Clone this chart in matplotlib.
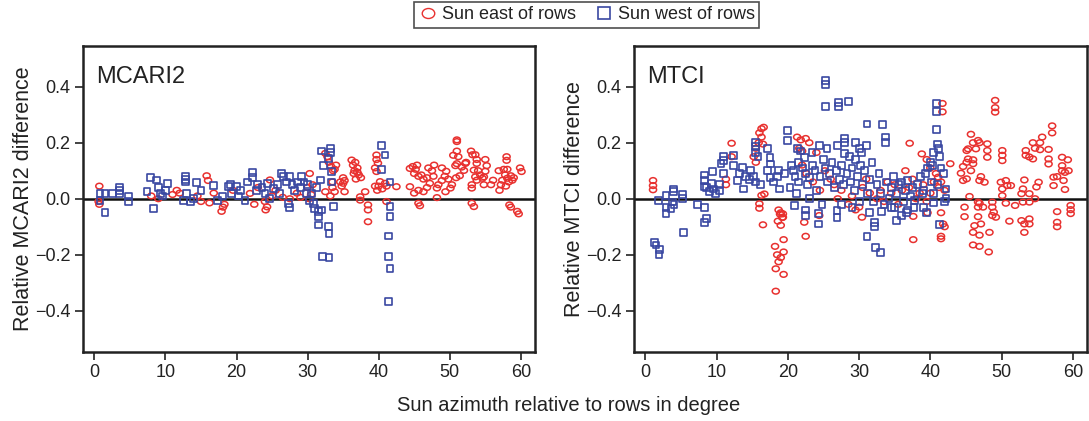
import matplotlib
matplotlib.use("Agg")
import matplotlib.pyplot as plt
from matplotlib.lines import Line2D
from matplotlib.path import Path
from matplotlib.transforms import Affine2D
from matplotlib.ticker import FixedLocator, FuncFormatter

plt.rcParams['font.family'] = ['Liberation Sans', 'DejaVu Sans']

# ---------------- data ----------------
mcari_west_x = [0.8, 0.8, 1.5, 1.5, 2.5, 3.5, 3.5, 3.5, 4.8, 4.8,
                7.4, 7.9, 8.3, 8.8, 9.0, 9.3, 10.3, 10.0, 9.6,
                12.8, 12.8, 12.8, 12.5, 13.5, 14.0, 13.0,
                14.4, 15.0, 16.8, 17.3, 18.0, 18.9, 19.3,
                19.1, 20.0, 20.6, 21.2, 22.3, 22.3, 23.0, 23.6, 24.0, 24.6, 25.2,
                26.3, 26.6, 27.0, 27.5, 27.8, 27.3, 27.4, 28.2, 29.2, 29.5, 29.0,
                30.3, 30.6, 31.0, 31.5, 31.5, 31.8, 31.2, 30.8, 32.0, 32.0, 32.2, 33.2, 33.2,
                33.4, 33.4, 32.9, 33.6, 31.5, 32.9, 33.0, 32.1, 33.0,
                40.4, 40.9, 40.4, 41.6, 41.6, 41.6, 41.4, 41.4, 41.6, 41.4,
                21.5, 22.8, 25.8, 26.0, 28.6, 24.4, 20.3, 29.8, 30.0]
mcari_west_y = [0.02, -0.005, 0.02, -0.05, 0.02, 0.04, 0.03, 0.02, 0.01, -0.01,
                0.025, 0.075, -0.035, 0.067, 0.04, 0.02, 0.055, 0.03, 0.01,
                0.08, 0.07, 0.06, -0.005, -0.01, 0.0, 0.02,
                0.057, 0.03, 0.046, -0.005, 0.01, 0.043, 0.02,
                0.05, 0.043, 0.03, -0.005, 0.093, 0.075, 0.05, 0.04, 0.02, 0.0, 0.037,
                0.09, 0.078, 0.06, 0.078, 0.05, -0.016, -0.03, 0.03, 0.079, 0.06, 0.04,
                -0.005, 0.02, -0.034, -0.046, -0.064, 0.067, 0.04, -0.017, 0.17, -0.04, 0.12, 0.18, 0.165,
                0.096, 0.06, 0.144, -0.028, -0.094, -0.098, -0.124, -0.207, -0.21,
                0.19, 0.156, 0.105, 0.06, -0.028, -0.064, -0.133, -0.207, -0.249, -0.368,
                0.06, 0.03, 0.05, 0.02, 0.06, 0.055, 0.01, 0.02, 0.05]

mcari_east_x = [0.7, 0.7, 0.6, 8.0, 9.0, 11.6, 12.0, 11.0, 15.8, 16.0, 15.0, 16.2, 17.9, 18.1, 18.3,
                16.8, 14.5, 19.5, 21.9, 22.5, 23.0, 24.0, 24.3, 24.1, 24.7, 25.0, 25.5, 26.5, 27.5,
                28.5, 29.0, 30.3, 30.0, 30.7, 30.2, 30.5,
                32.5, 32.8, 33.0, 33.3, 33.8, 34.0, 33.6, 32.5, 33.5, 33.5, 33.8, 33.2, 34.6, 35.0,
                35.2, 35.0, 35.2, 34.8,
                36.2, 36.4, 36.7, 37.0, 36.6, 37.0, 36.5, 37.2, 36.8, 37.5, 37.4, 37.4, 38.1, 38.5,
                38.5, 38.5,
                39.7, 39.7, 39.9, 39.5, 39.7, 40.2, 40.0, 40.9, 40.5, 41.1, 42.5, 41.1, 39.5, 39.8,
                44.4, 44.8, 45.2, 45.4, 45.0, 44.4, 45.0, 45.6, 45.8, 45.6, 46.3, 46.0, 46.8, 47.0,
                47.5, 47.8, 47.7, 47.2, 46.8, 46.3, 45.6,
                48.2, 48.4, 48.9, 49.3, 49.5, 48.9, 49.8, 50.3, 50.1, 49.4, 48.2,
                50.5, 51.0, 51.2, 51.0, 51.0, 51.0, 50.8, 51.7, 52.0, 52.2, 52.3, 51.4, 50.9,
                53.0, 53.2, 53.6, 53.8, 53.8, 53.4, 54.0, 54.3, 53.6, 53.8, 53.1, 53.1, 53.1, 53.4,
                55.0, 55.2, 55.0, 54.8, 54.6, 56.1, 55.8, 54.8,
                56.9, 57.6, 58.1, 57.8, 58.1, 57.4, 57.2, 57.0,
                58.0, 58.0, 58.6, 58.8, 59.0, 58.3, 57.9,
                59.9, 60.1, 58.4, 58.6, 59.5, 59.7]
mcari_east_y = [0.045, -0.02, -0.01, 0.01, 0.0, 0.03, 0.02, 0.015, 0.082, 0.065, -0.01, -0.015, -0.045, -0.03, -0.02,
                0.02, 0.01, 0.03, 0.019, -0.02, 0.04, -0.01, -0.029, -0.04, 0.067, 0.01, 0.03, 0.005, 0.0,
                0.02, 0.005, 0.09, 0.04, 0.05, 0.0, 0.015,
                0.162, 0.15, 0.13, 0.115, 0.105, 0.12, 0.1, 0.025, 0.06, 0.04, 0.025, 0.01, 0.06, 0.055,
                0.065, 0.075, 0.025, 0.045,
                0.138, 0.12, 0.13, 0.11, 0.1, 0.095, 0.09, 0.085, 0.07, 0.075, 0.007, -0.005, 0.025, -0.022,
                -0.04, -0.082,
                0.156, 0.14, 0.127, 0.11, 0.097, 0.061, 0.045, 0.055, 0.035, 0.045, 0.043, -0.01, 0.045, 0.03,
                0.108, 0.115, 0.105, 0.12, 0.09, 0.043, 0.02, -0.016, -0.025, 0.08, 0.07, 0.085, 0.075, 0.11,
                0.1, 0.12, 0.08, 0.055, 0.04, 0.025, 0.03,
                0.038, 0.05, 0.065, 0.08, 0.098, 0.11, 0.07, 0.05, 0.038, 0.025, 0.004,
                0.155, 0.17, 0.15, 0.204, 0.21, 0.125, 0.118, 0.113, 0.101, 0.126, 0.13, 0.082, 0.075,
                0.17, 0.157, 0.157, 0.14, 0.126, 0.102, 0.1, 0.085, 0.078, 0.066, 0.05, 0.038, -0.016, -0.028,
                0.14, 0.118, 0.098, 0.078, 0.073, 0.066, 0.05, 0.05,
                0.1, 0.105, 0.105, 0.085, 0.073, 0.066, 0.05, 0.03,
                0.15, 0.137, 0.082, 0.066, 0.075, 0.06, 0.045,
                0.11, 0.097, -0.022, -0.03, -0.045, -0.054]

mtci_west_x = [1.3, 1.5, 2.0, 1.9, 1.8, 2.9, 3.9, 3.9, 2.9, 2.9, 3.8, 4.0, 3.6, 5.25, 5.25, 5.3,
               7.3, 8.3, 8.6, 8.3, 8.3, 8.3, 8.3, 8.6, 9.3, 9.6, 10.4, 10.4, 9.8, 9.0, 9.4, 11.0,
               10.6, 11.0, 11.0, 12.4, 12.4, 13.6, 14.8, 12.9, 13.8, 14.0, 14.6, 13.2, 15.2, 15.4,
               15.5, 15.5, 15.5, 15.8, 17.1, 17.5, 17.6, 17.1, 16.2, 18.7, 18.8, 18.6, 18.0, 17.5, 19.5,
               20.0, 20.0, 21.4, 21.8, 22.3, 23.4, 24.4, 25.5, 27.0, 27.9, 27.9, 29.5, 31.1, 33.3, 33.7,
               33.7, 31.0, 30.0, 28.6, 29.5, 30.3,
               25.3, 25.3, 25.3, 27.1, 27.1, 28.5,
               20.9, 22.5, 22.5, 24.3, 24.3, 26.9, 26.9, 31.1, 32.3, 33.0, 32.2, 32.2, 35.3, 36.6, 37.7, 39.0,
               20.5, 20.8, 21.0, 21.5, 20.3, 21.2, 22.0, 22.5, 23.0, 22.8, 23.5, 23.8, 24.0, 24.5, 25.0,
               25.2, 25.6, 25.9, 26.2, 26.5, 26.8, 27.2, 27.5, 27.8, 28.0, 28.3, 28.8, 29.0, 29.4, 29.8,
               30.2, 30.5, 30.8, 31.2, 31.5, 31.8, 32.0, 32.5, 32.8, 33.0, 33.5, 33.8, 34.2, 34.5, 34.8,
               35.0, 35.3, 35.6, 36.0, 36.2, 36.5, 36.8, 37.2, 37.5, 37.8, 38.2, 38.6, 38.9, 39.3, 39.6,
               40.0, 40.2, 40.5, 40.9, 40.9, 40.9, 41.0, 41.1, 40.5, 41.3, 40.3, 41.5, 41.8, 41.0, 42.2,
               42.2, 42.0, 40.4, 41.3, 39.5, 39.0, 21.5, 23.0, 24.8, 27.5, 29.0, 30.0, 31.5, 33.2, 34.5,
               36.0, 36.8]
mtci_west_y = [-0.155, -0.165, -0.18, -0.2, -0.006, 0.011, 0.035, 0.027, -0.03, -0.052, -0.012, -0.02, -0.035,
               0.015, 0.0, -0.12,
               -0.02, -0.03, -0.07, -0.085, 0.085, 0.065, 0.045, 0.04, 0.055, 0.035, 0.05, 0.03, 0.02, 0.025,
               0.097, 0.089,
               0.125, 0.15, 0.135, 0.154, 0.118, 0.112, 0.1, 0.065, 0.035, 0.08, 0.07, 0.09, 0.08, 0.06,
               0.2, 0.185, 0.166, 0.15, 0.178, 0.148, 0.124, 0.1, 0.05, 0.1, 0.035, 0.08, 0.06, 0.075, 0.09,
               0.244, 0.208, 0.178, 0.17, 0.148, 0.165, 0.19, 0.178, 0.19, 0.215, 0.2, 0.2, 0.267, 0.264, 0.22,
               0.2, 0.19, 0.18, 0.15, 0.14, 0.165,
               0.422, 0.408, 0.33, 0.342, 0.33, 0.347,
               -0.024, -0.04, -0.06, -0.054, -0.09, -0.042, -0.066, -0.134, -0.173, -0.193, -0.084, -0.1,
               -0.078, -0.05, -0.03, -0.03,
               0.12, 0.1, 0.08, 0.06, 0.04, 0.02, 0.11, 0.09, 0.075, 0.05, 0.12, 0.1, 0.03, 0.08, 0.14,
               0.11, 0.06, 0.09, 0.13, 0.04, 0.1, 0.07, 0.12, 0.05, 0.16, 0.09, 0.06, 0.11, 0.03, 0.08,
               0.12, 0.05, 0.1, 0.02, 0.07, 0.13, -0.01, 0.05, 0.09, 0.02, -0.02, 0.06, 0.0, 0.04, 0.08,
               -0.03, 0.02, 0.05, 0.06, -0.01, 0.03, 0.065, 0.01, 0.04, -0.005, 0.05, 0.08, 0.02, 0.09, 0.11,
               0.13, 0.06, 0.02, 0.341, 0.311, 0.248, 0.195, 0.18, 0.165, 0.15, 0.12, 0.11, 0.09, 0.05, 0.035,
               0.0, -0.01, -0.015, -0.092, -0.05, 0.03, 0.13, 0.0, -0.02, -0.02, -0.03, -0.01, -0.05, -0.045,
               -0.03, -0.06, -0.04]

mtci_east_x = [1.07, 1.07, 1.07, 12.1, 12.1, 11.3, 11.3,
               16.3, 16.6, 16.0, 16.3, 15.9, 16.5, 15.5, 15.2, 15.5, 16.3, 16.7, 16.0, 16.0, 16.5,
               18.7, 19.0, 19.2, 18.9, 18.6, 19.0, 18.2, 19.4, 18.7, 19.4, 18.3, 19.4, 18.3, 18.5, 19.0,
               19.3, 19.3, 22.3, 22.5, 24.4, 30.4, 29.5, 30.0, 37.6, 37.6, 37.1,
               21.3, 21.8, 22.5, 23.0, 21.6, 22.0, 24.0, 22.0, 22.6, 23.5, 24.5, 25.2, 26.0, 26.5, 27.0,
               27.5, 28.5, 29.0, 30.5, 31.0, 31.5, 32.5, 33.0, 33.5, 34.0, 34.5, 35.0, 35.5, 36.0, 36.5,
               37.0, 37.5, 38.0, 38.5, 39.0, 39.5, 40.0, 40.5, 38.8, 39.5, 40.0, 40.8, 41.5, 42.0, 41.7,
               41.7, 42.8, 41.2, 41.5, 41.8, 42.0, 41.5, 41.5, 39.6, 41.1,
               45.7, 46.0, 46.7, 46.9, 46.4, 45.3, 45.1, 48.0, 48.0, 48.0,
               44.6, 45.1, 45.3, 46.0, 46.0, 45.7, 44.3, 45.1, 44.6, 47.1, 47.6, 46.9,
               45.5, 44.8, 44.8, 46.7, 46.7, 46.7, 46.2, 46.0, 46.9, 48.3, 47.1, 46.0, 46.9, 48.2,
               49.1, 49.1, 49.1, 50.1, 50.1, 50.1,
               49.9, 50.6, 50.8, 50.1, 51.3, 50.1, 50.6, 51.9, 51.1, 48.7, 48.7, 48.9, 48.7, 49.2, 47.4, 46.9,
               53.4, 53.4, 53.9, 54.4, 53.2, 53.0, 52.8, 53.9, 54.9, 55.2, 54.7, 53.9, 53.0, 52.8, 53.2, 53.2,
               53.9, 53.9,
               54.4, 54.7, 55.4, 55.7, 55.4, 57.1, 57.1,
               56.6, 56.6, 56.6, 58.5, 59.3, 58.5, 58.5, 58.9, 59.4, 57.3, 57.8, 57.3, 58.7, 58.9,
               57.8, 57.8, 57.8, 59.7, 59.7, 59.7]
mtci_east_y = [0.065, 0.047, 0.032, 0.198, 0.15, 0.07, 0.05,
               0.25, 0.255, 0.235, 0.22, 0.2, 0.195, 0.18, 0.15, 0.13, 0.012, 0.017, -0.018, -0.034, -0.093,
               -0.04, -0.05, -0.067, -0.055, -0.08, -0.095, -0.17, -0.146, -0.225, -0.19, -0.25, -0.27, -0.33,
               -0.2, -0.21,
               -0.054, -0.066, -0.084, -0.134, -0.06, -0.066, -0.04, -0.03, -0.146, -0.063, 0.198,
               0.22, 0.21, 0.215, 0.2, 0.18, 0.17, 0.165, 0.12, 0.09, 0.06, 0.03, 0.1, 0.07, 0.05, 0.0,
               0.03, -0.02, 0.01, 0.04, 0.07, 0.02, 0.0, 0.03, -0.01, 0.06, 0.02, 0.05, -0.02, 0.03, 0.1,
               0.04, 0.07, 0.0, 0.02, 0.05, -0.01, 0.02, 0.06, 0.16, 0.14, 0.11, 0.09, 0.06, 0.03, 0.34,
               0.31, 0.125, 0.04, -0.05, -0.09, -0.1, -0.134, -0.143, -0.05, 0.077,
               0.23, 0.2, 0.208, 0.2, 0.178, 0.178, 0.172, 0.196, 0.172, 0.148,
               0.115, 0.13, 0.142, 0.139, 0.125, 0.1, 0.091, 0.071, 0.065, 0.079, 0.059, 0.065,
               0.008, -0.03, -0.064, -0.012, -0.03, -0.064, -0.096, -0.12, -0.13, -0.12, -0.09, -0.165, -0.17,
               -0.19,
               0.351, 0.325, 0.309, 0.172, 0.155, 0.136,
               0.059, 0.065, 0.047, 0.035, 0.047, 0.011, -0.016, -0.024, -0.08, -0.012, -0.03, -0.048, -0.06,
               -0.066, -0.03, -0.016,
               0.172, 0.155, 0.149, 0.142, 0.067, 0.035, 0.018, 0.018, 0.042, 0.059, 0.0, -0.012, -0.012,
               -0.078, -0.09, -0.12, -0.072, -0.09,
               0.2, 0.18, 0.2, 0.22, 0.175, 0.26, 0.235,
               0.176, 0.142, 0.124, 0.148, 0.139, 0.118, 0.1, 0.094, 0.1, 0.077, 0.079, 0.047, 0.065, 0.033,
               -0.046, -0.084, -0.1, -0.024, -0.039, -0.053]

panel_titles = ["MCARI2", "MTCI"]
y_labels = ["Relative MCARI2 difference", "Relative MTCI difference"]
x_label = "Sun azimuth relative to rows in degree"
legend_labels = ["Sun east of rows", "Sun west of rows"]
x_ticks = [0, 10, 20, 30, 40, 50, 60]
y_ticks = [-0.4, -0.2, 0.0, 0.2, 0.4]

RED = '#e8312f'
BLUE = '#3a48a2'

# slightly flattened circle marker (as in the original figure)
ellipse = Path.unit_circle().transformed(Affine2D().scale(1.25, 1.0))

fig = plt.figure(figsize=(10.89, 4.21), dpi=100)
ax1 = fig.add_axes([0.0762, 0.1639, 0.4151, 0.7268])
ax2 = fig.add_axes([0.5822, 0.1639, 0.4160, 0.7268])

panels = [
    (ax1, mcari_east_x, mcari_east_y, mcari_west_x, mcari_west_y),
    (ax2, mtci_east_x, mtci_east_y, mtci_west_x, mtci_west_y),
]

fmt = FuncFormatter(lambda v, p: ("%.1f" % v).replace("-", "\u2212") if abs(v) > 1e-9 else "0.0")

for i, (ax, ex, ey, wx, wy) in enumerate(panels):
    ax.axhline(0, color='#111111', lw=1.8, zorder=1)
    ax.scatter(ex, ey, s=26, marker=ellipse, facecolors='none', edgecolors=RED, linewidths=1.1, zorder=2)
    ax.scatter(wx, wy, s=24, marker='s', facecolors='none', edgecolors=BLUE, linewidths=1.2, zorder=3)
    ax.set_xlim(-1.6, 62)
    ax.set_ylim(-0.547, 0.545)
    ax.xaxis.set_major_locator(FixedLocator(x_ticks))
    ax.yaxis.set_major_locator(FixedLocator(y_ticks))
    ax.yaxis.set_major_formatter(fmt)
    ax.tick_params(direction='out', length=6, width=1.2, labelsize=13, color='#222222',
                   labelcolor='#222222', top=False, right=False, pad=3)
    for sp in ax.spines.values():
        sp.set_linewidth(1.8)
        sp.set_color('#222222')
    ax.set_ylabel(y_labels[i], fontsize=15.5, color='#222222', labelpad=1)
    ax.text(0.03, 0.9, panel_titles[i], transform=ax.transAxes, fontsize=17,
            color='#222222', va='center', ha='left')

fig.text(0.522, 0.036, x_label, fontsize=14.5, color='#222222', ha='center', va='center')

handles = [
    Line2D([], [], marker=ellipse, linestyle='none', markerfacecolor='none', markeredgecolor=RED,
           markersize=9, markeredgewidth=1.0),
    Line2D([], [], marker='s', linestyle='none', markerfacecolor='none', markeredgecolor=BLUE,
           markersize=8, markeredgewidth=1.2),
]
leg = fig.legend(handles, legend_labels, loc='upper center', bbox_to_anchor=(0.539, 0.996), ncol=2,
                 frameon=True, fancybox=False, fontsize=13, handlelength=1.0, handletextpad=0.3,
                 columnspacing=1.0, borderpad=0.25, borderaxespad=0.0)
leg.get_frame().set_edgecolor('#222222')
leg.get_frame().set_linewidth(1.2)
for t in leg.get_texts():
    t.set_color('#222222')

fig.savefig('out.png', dpi=100)
